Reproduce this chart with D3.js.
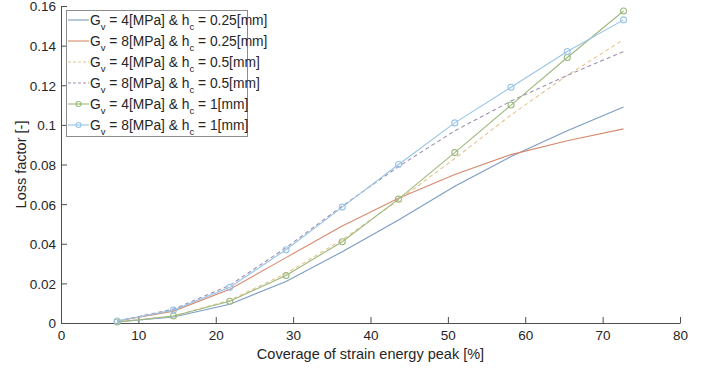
<!DOCTYPE html>
<html><head><meta charset="utf-8">
<script src="https://cdn.jsdelivr.net/npm/d3@7"></script>
<style>body{margin:0;background:#fff}svg text{font-family:"Liberation Sans",Arial,sans-serif;fill:#262626}</style>
</head><body><svg id="c" width="708" height="368"></svg>
<script>
const coverage = [7.27, 14.54, 21.81, 29.08, 36.35, 43.62, 50.89, 58.16, 65.43, 72.7];
const g4h025 = [0.0005, 0.003, 0.0095, 0.021, 0.036, 0.052, 0.069, 0.084, 0.097, 0.109];
const g8h025 = [0.001, 0.006, 0.017, 0.033, 0.049, 0.063, 0.075, 0.085, 0.092, 0.098];
const g4h05 = [0.0005, 0.0035, 0.0115, 0.025, 0.042, 0.062, 0.083, 0.105, 0.125, 0.143];
const g8h05 = [0.001, 0.007, 0.019, 0.038, 0.059, 0.079, 0.097, 0.112, 0.125, 0.137];
const g4h1 = [0.0005, 0.0035, 0.011, 0.024, 0.041, 0.0625, 0.086, 0.110, 0.134, 0.1575];
const g8h1 = [0.001, 0.0065, 0.018, 0.037, 0.0585, 0.080, 0.101, 0.119, 0.137, 0.153];
const xTicks = [0, 10, 20, 30, 40, 50, 60, 70, 80];
const yTicks = [0, 0.02, 0.04, 0.06, 0.08, 0.1, 0.12, 0.14, 0.16];
const series = [
  {G: "4", h: "0.25", v: g4h025, color: "#7b9cc4", dash: null, marker: false},
  {G: "8", h: "0.25", v: g8h025, color: "#d68a6e", dash: null, marker: false},
  {G: "4", h: "0.5", v: g4h05, color: "#e6c48e", dash: "4,3", marker: false},
  {G: "8", h: "0.5", v: g8h05, color: "#9f8fb0", dash: "4,3", marker: false},
  {G: "4", h: "1", v: g4h1, color: "#9cb97d", dash: null, marker: true},
  {G: "8", h: "1", v: g8h1, color: "#98c4e6", dash: null, marker: true}
];

const svg = d3.select("#c");
const L = 61, R = 680, T = 6, B = 323;
const x = d3.scaleLinear().domain([0, 80]).range([L, R]);
const y = d3.scaleLinear().domain([0, 0.16]).range([B, T]);
const axisColor = "#4d4d4d";

const xa = svg.append("g").attr("transform", `translate(0,${B})`)
  .call(d3.axisBottom(x).tickValues(xTicks).tickSizeInner(-6).tickSizeOuter(0).tickPadding(7).tickFormat(d3.format("d")));
const ya = svg.append("g").attr("transform", `translate(${L},0)`)
  .call(d3.axisLeft(y).tickValues(yTicks).tickSizeInner(-6).tickSizeOuter(0).tickPadding(5).tickFormat(d => d === 0 ? "0" : String(d)));
[xa, ya].forEach(a => {
  a.selectAll("path,line").attr("stroke", axisColor).attr("stroke-width", 1);
  a.selectAll("text").attr("font-size", 13.5).attr("fill", "#262626").style("font-family", '"Liberation Sans",Arial,sans-serif');
});
ya.selectAll(".tick text").attr("dy", "0.36em");

const line = d3.line().x((d, i) => x(coverage[i])).y(d => y(d));
series.forEach(s => {
  svg.append("path").datum(s.v).attr("d", line).attr("fill", "none")
    .attr("stroke", s.color).attr("stroke-width", 1.1)
    .attr("stroke-dasharray", s.dash);
  if (s.marker) {
    svg.append("g").selectAll("circle").data(s.v).join("circle")
      .attr("cx", (d, i) => x(coverage[i])).attr("cy", d => y(d)).attr("r", 3)
      .attr("fill", "none").attr("stroke", s.color).attr("stroke-width", 1.1);
  }
});

svg.append("text").attr("transform", `translate(26,${(T + B) / 2}) rotate(-90)`)
  .attr("text-anchor", "middle").attr("font-size", 14.5).text("Loss factor [-]");
svg.append("text").attr("x", (L + R) / 2).attr("y", 359)
  .attr("text-anchor", "middle").attr("font-size", 14.5).text("Coverage of strain energy peak [%]");

const lg = svg.append("g");
lg.append("rect").attr("x", 66.5).attr("y", 10.5).attr("width", 181).attr("height", 126)
  .attr("fill", "#fff").attr("stroke", "#8c8c8c").attr("stroke-width", 1);
series.forEach((s, i) => {
  const yy = 20 + i * 21;
  lg.append("line").attr("x1", 68).attr("x2", 89).attr("y1", yy).attr("y2", yy)
    .attr("stroke", s.color).attr("stroke-width", 1.1).attr("stroke-dasharray", s.dash ? "3,2" : null);
  if (s.marker) lg.append("circle").attr("cx", 78.5).attr("cy", yy).attr("r", 2.5)
    .attr("fill", "none").attr("stroke", s.color).attr("stroke-width", 1.1);
  const t = lg.append("text").attr("x", 90).attr("y", yy + 5).attr("font-size", 13.8);
  t.append("tspan").text("G");
  t.append("tspan").attr("font-size", 9.5).attr("dy", 4.5).text("v");
  t.append("tspan").attr("dy", -4.5).text(` = ${s.G}[MPa] & h`);
  t.append("tspan").attr("font-size", 9.5).attr("dy", 4.5).text("c");
  t.append("tspan").attr("dy", -4.5).text(` = ${s.h}[mm]`);
});
</script></body></html>
